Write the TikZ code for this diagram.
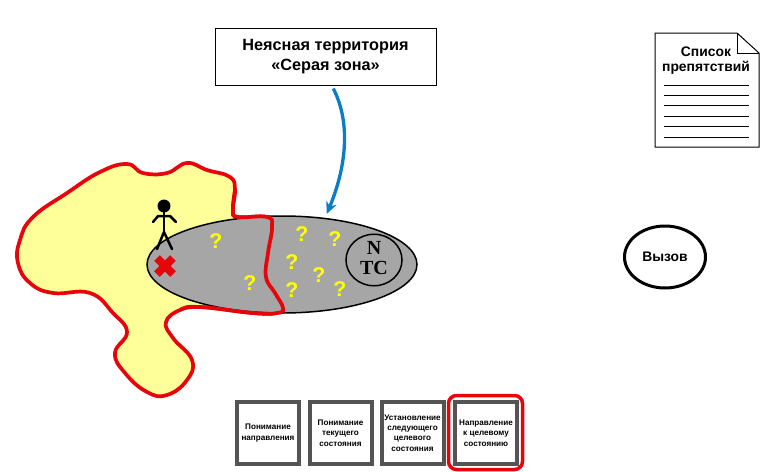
\documentclass[tikz,border=0pt]{standalone}
\usepackage{fontspec}
\setmainfont{Liberation Sans}
\newfontfamily\ntcfont{Liberation Serif}
\usetikzlibrary{arrows.meta,shapes.geometric}
\newlength{\du}
\setlength{\du}{0.75pt}
\definecolor{terrcolor}{rgb}{1.000000, 1.000000, 0.600000}
\definecolor{edgecolor}{rgb}{0.900000, 0.020000, 0.040000}
\definecolor{greycolor}{rgb}{0.650000, 0.650000, 0.650000}
\definecolor{framecolor}{rgb}{0.330000, 0.330000, 0.330000}
\definecolor{arrowcolor}{rgb}{0.040000, 0.490000, 0.780000}
\definecolor{askcolor}{rgb}{1.000000, 1.000000, 0.000000}
\tikzset{
  titlebox/.style={draw=black,line width=1\du,fill=white,minimum width=221\du,minimum height=57\du,
    inner sep=0pt,outer sep=0pt,align=center,font=\fontsize{12.2}{15.6}\selectfont\bfseries},
  stagebox/.style={draw=framecolor,line width=4\du,fill=white,minimum width=62\du,minimum height=62\du,
    inner sep=0pt,outer sep=0pt,align=center,font=\fontsize{6.1}{7.8}\selectfont\bfseries},
  ask/.style={inner sep=0pt,text=askcolor,font=\fontsize{16}{16}\selectfont\bfseries},
  rim/.style={draw=edgecolor,line width=3.7\du,line join=round},
  figure/.style={draw=black,line width=2.5\du,line cap=round,line join=round},
  rule/.style={draw=black,line width=1\du}
}

\begin{document}
\begin{tikzpicture}
\pgftransformxscale{1.000000}
\pgftransformyscale{-1.000000}
\useasboundingbox (0\du,0\du) rectangle (769\du,472\du);
% yellow territory
\path[rim,fill=terrcolor] plot[smooth cycle,tension=0.75] coordinates {
  (127\du,164\du) (143\du,173\du) (167\du,173\du) (187\du,163\du) (207\du,170\du) (230\du,177\du)
  (235\du,190\du) (233\du,210\du) (238\du,217\du) (267\du,217\du) (272\du,227\du) (268\du,253\du)
  (266\du,277\du) (275\du,293\du) (283\du,308\du) (277\du,313\du) (253\du,313\du) (200\du,307\du)
  (180\du,310\du) (166\du,322\du) (173\du,338\du) (192\du,360\du) (187\du,380\du) (167\du,395\du)
  (147\du,392\du) (125\du,373\du) (115\du,353\du) (127\du,332\du) (113\du,313\du) (90\du,293\du)
  (53\du,293\du) (30\du,283\du) (18\du,263\du) (20\du,240\du) (33\du,217\du) (67\du,193\du) (100\du,172\du)};
% grey zone
\node[ellipse,draw=black,line width=1.5\du,fill=greycolor,minimum width=270\du,minimum height=97\du,
  inner sep=0pt,outer sep=0pt] (zone) at (282\du,264.5\du){};
% red edge again, on top of the zone
\path[rim] plot[smooth,tension=0.75] coordinates {
  (235\du,190\du) (233\du,210\du) (238\du,217\du) (267\du,217\du) (272\du,227\du) (268\du,253\du)
  (266\du,277\du) (275\du,293\du) (283\du,308\du) (277\du,313\du) (253\du,313\du) (200\du,307\du) (180\du,310\du)};
% NTC
\node[ellipse,draw=black,line width=1.5\du,minimum width=56\du,minimum height=50\du,inner sep=0pt,outer sep=0pt,
  align=center,text depth=4\du,font=\ntcfont\fontsize{15}{14.5}\selectfont\bfseries] (ntc) at (374\du,260\du){N\\TC};
% question marks
\node[ask] (askone) at (216\du,241\du){?};
\node[ask] (asktwo) at (250\du,283\du){?};
\node[ask] (askthree) at (302\du,234\du){?};
\node[ask] (askfour) at (335\du,239\du){?};
\node[ask] (askfive) at (292\du,262\du){?};
\node[ask] (asksix) at (319\du,275\du){?};
\node[ask] (askseven) at (292\du,290\du){?};
\node[ask] (askeight) at (340\du,289\du){?};
% person
\fill[black] (164\du,206\du) circle (6.5\du);
\draw[figure] (164\du,212\du) -- (164\du,232\du);
\draw[figure] (153\du,222\du) -- (158\du,216\du) -- (170\du,216\du) -- (176\du,222\du);
\draw[figure] (157\du,249\du) -- (164\du,232\du) -- (172\du,249\du);
% red cross
\draw[draw=edgecolor,line width=8\du] (157\du,258\du) -- (173\du,274\du);
\draw[draw=edgecolor,line width=8\du] (173\du,258\du) -- (157\du,274\du);
% title
\node[titlebox] (title) at (325.5\du,56.5\du){Неясная территория\\«Серая зона»};
\draw[draw=arrowcolor,line width=3.3\du,-{Stealth[length=9pt,width=8.25pt]},shorten <=4\du,shorten >=5\du]
  ([xshift=6\du]title.south) .. controls (352\du,125\du) and (345\du,170\du) .. (zone.47);
% list of obstacles
\draw[draw=black,line width=1\du,fill=white] (655\du,33\du) -- (737\du,33\du) -- (759\du,53\du) -- (759\du,147\du) -- (655\du,147\du) -- cycle;
\draw[draw=black,line width=1\du] (737\du,33\du) -- (737\du,53\du) -- (759\du,53\du);
\node[inner sep=0pt,align=center,font=\fontsize{10.4}{11.2}\selectfont\bfseries] (obstacles) at (706\du,61\du){Список\\препятствий};
\draw[rule] (664\du,85\du) -- (749\du,85\du);
\draw[rule] (664\du,95\du) -- (749\du,95\du);
\draw[rule] (664\du,105\du) -- (749\du,105\du);
\draw[rule] (664\du,116\du) -- (749\du,116\du);
\draw[rule] (664\du,126\du) -- (749\du,126\du);
\draw[rule] (664\du,137\du) -- (749\du,137\du);
% challenge
\node[ellipse,draw=black,line width=3\du,minimum width=81\du,minimum height=62\du,inner sep=0pt,
  font=\fontsize{10.4}{12}\selectfont\bfseries] (challenge) at (665\du,257\du){Вызов};
% stages
\node[stagebox] (stageone) at (268\du,433\du){Понимание\\направления};
\node[stagebox] (stagetwo) at (340.5\du,433\du){Понимание\\текущего\\состояния};
\node[stagebox] (stagethree) at (412.5\du,433\du){Установление\\следующего\\целевого\\состояния};
\node[stagebox] (stagefour) at (486\du,433\du){Направление\\к целевому\\состоянию};
\node[draw=edgecolor,line width=3.5\du,rounded corners=8\du,minimum width=74\du,minimum height=74\du,
  inner sep=0pt] (current) at (485.5\du,432.5\du){};
\end{tikzpicture}
\end{document}
